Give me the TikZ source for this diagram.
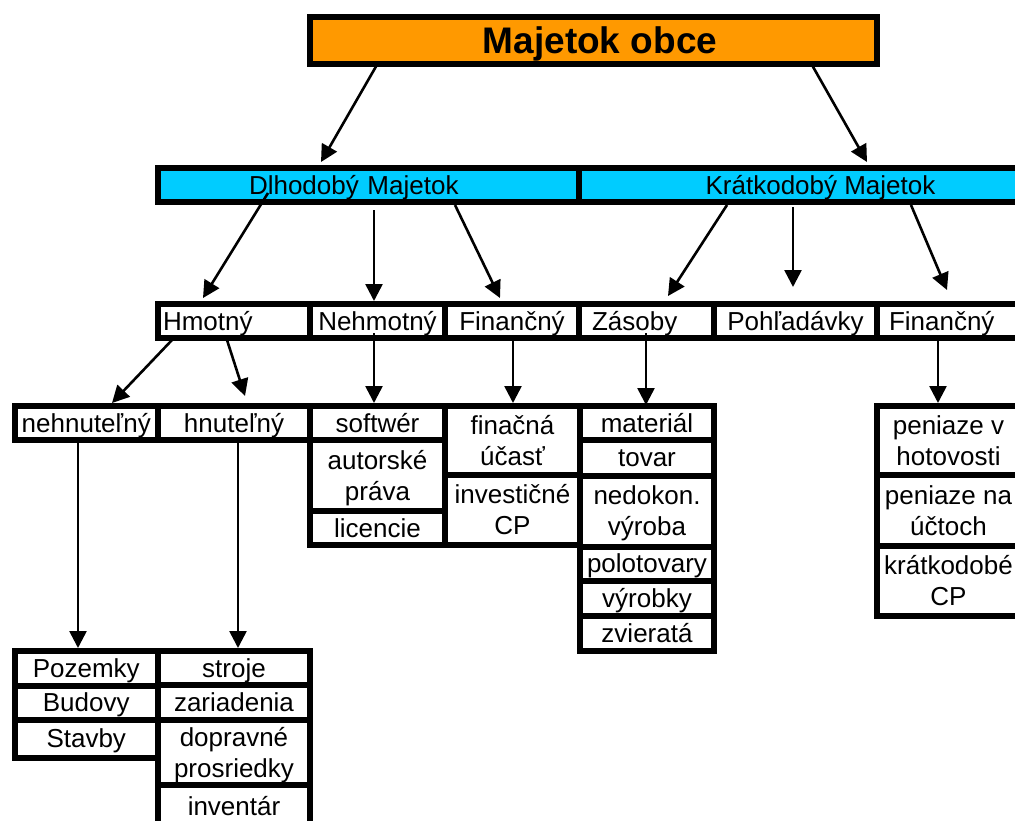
\documentclass[tikz,border=0pt]{standalone}
\usepackage{fontspec}
\setmainfont{Liberation Sans}
\usetikzlibrary{calc,arrows.meta}

\definecolor{oranz}{RGB}{255,153,0}
\definecolor{modra}{RGB}{0,204,255}

\begin{document}
\begin{tikzpicture}[x=1pt,y=-1pt,
                    cell/.style={draw,line width=6pt,inner sep=0pt,outer sep=0pt,minimum height=34pt,
                                 font=\fontsize{26}{31}\selectfont,text height=18pt,text depth=0pt},
                    cellii/.style={draw,line width=6pt,inner sep=0pt,outer sep=0pt,align=center,
                                 font=\fontsize{26}{31}\selectfont},
                    sipka/.style={line width=2.6pt,-{Triangle[length=17pt,width=17pt]}}]

\useasboundingbox (0,0) rectangle (1015,820);
\clip (0,0) rectangle (1015,820);

%\draw [help lines] (0,0) grid [step=50] (1015,820);

% majetok obce
\node[cell,fill=oranz,minimum width=567pt,minimum height=47pt,text height=26pt,
      font=\fontsize{37}{44}\selectfont\bfseries] (obec) at (593.5,40.5) {\hspace*{13pt}Majetok obce};

% dlhodoby / kratkodoby
\node[cell,fill=modra,minimum width=421pt,align=left,text width=239pt,inner xsep=91pt] (dlho) at (368.5,185) {Dlhodobý Majetok};
\node[cell,fill=modra,minimum width=483pt] (krat) at (820.5,185) {Krátkodobý Majetok};

% druhy riadok
\node[cell,minimum width=152pt,align=left,text width=142pt,inner xsep=5pt] (hmot) at (234,321) {Hmotný};
\node[cell,minimum width=135pt] (nehm) at (377.5,321) {Nehmotný};
\node[cell,minimum width=134pt] (fin1) at (512,321) {Finančný};
\node[cell,minimum width=135pt,align=left,text width=109pt,inner xsep=13pt] (zas) at (646.5,321) {Zásoby};
\node[cell,minimum width=163pt] (pohl) at (795.5,321) {Pohľadávky};
\node[cell,minimum width=168pt,align=left,text width=144pt,inner xsep=12pt] (fin2) at (961,321) {Finančný};

% hmotny
\node[cell,minimum width=143.5pt] (nehn) at (86.25,423) {nehnuteľný};
\node[cell,minimum width=152pt] (hnut) at (234,423) {hnuteľný};

% nehmotny
\node[cell,minimum width=135pt] (soft) at (377.5,423) {softwér};
\node[cellii,minimum width=135pt,minimum height=71pt] (aut) at (377.5,475.5) {autorské\\\smash{práva}};
\node[cell,minimum width=135pt] (lic) at (377.5,528) {licencie};

% financny
\node[cellii,minimum width=135pt,minimum height=69pt] (fina) at (512.5,440.5) {finačná\\účasť};
\node[cellii,minimum width=135pt,minimum height=70pt] (inv) at (512.5,510) {investičné\\CP};

% zasoby
\node[cell,minimum width=134pt] (mat) at (647,423) {materiál};
\node[cell,minimum width=134pt,minimum height=35.5pt] (tov) at (647,457.75) {tovar};
\node[cellii,minimum width=134pt,minimum height=71pt] (ned) at (647,511) {nedokon.\\\smash{výroba}};
\node[cell,minimum width=134pt] (pol) at (647,563.5) {polotovary};
\node[cell,minimum width=134pt,minimum height=35.5pt] (vyr) at (647,598.25) {výrobky};
\node[cell,minimum width=134pt,minimum height=34.5pt] (zvi) at (647,633.25) {zvieratá};

% kratkodoby financny
\node[cellii,minimum width=143pt,minimum height=69pt] (pen1) at (948.5,440.5) {peniaze v\\hotovosti};
\node[cellii,minimum width=143pt,minimum height=71pt] (pen2) at (948.5,510.5) {peniaze na\\účtoch};
\node[cellii,minimum width=143pt,minimum height=70pt] (kcp) at (948.5,581) {krátkodobé\\CP};

% nehnutelny / hnutelny
\node[cell,minimum width=143.5pt,minimum height=34.5pt] (poz) at (86.25,668.25) {Pozemky};
\node[cell,minimum width=143.5pt,minimum height=34.5pt] (bud) at (86.25,702.75) {Budovy};
\node[cell,minimum width=143.5pt,minimum height=37.5pt] (stav) at (86.25,738.75) {Stavby};
\node[cell,minimum width=152pt] (stroj) at (234,668) {stroje};
\node[cell,minimum width=152pt,minimum height=35pt] (zar) at (234,702.5) {zariadenia};
\node[cellii,minimum width=152pt,minimum height=65pt] (dop) at (234,752.5) {dopravné\\\smash{prosriedky}};
\node[cell,minimum width=152pt,minimum height=42pt] (invt) at (234,806) {inventár};

% sipky
\draw[sipka] ($(obec.south)+(-215.5,-1)$) -- ($(dlho.north)+(-47.5,-6)$);
\draw[sipka] ($(obec.south)+(218.5,1)$) -- ($(krat.north)+(46.5,-6)$);

\draw[sipka] ($(dlho.south)+(-100.5,-9)$) -- ($(hmot.north)+(-31,-6)$);
\draw[sipka] ($(dlho.south)+(5.5,8)$) -- ($(nehm.north)+(-3.5,-3)$);
\draw[sipka] ($(dlho.south)+(86.5,3)$) -- ($(fin1.north)+(-12,-6)$);
\draw[sipka] ($(krat.south)+(-93.5,3)$) -- ($(zas.north)+(21.5,-8)$);
\draw[sipka] ($(krat.south)+(-27.5,5)$) -- ($(pohl.north)+(-2.5,-17)$);
\draw[sipka] ($(krat.south)+(90.5,3)$) -- ($(fin2.north)+(-14,-14)$);

\draw[sipka] ($(hmot.south)+(-62,2)$) -- ($(nehn.north)+(25.75,-3)$);
\draw[sipka] ($(hmot.south)+(-7,2)$) -- ($(hnut.north)+(11,-10)$);
\draw[sipka] ($(nehm.south)+(-3.5,-5)$) -- ($(soft.north)+(-3.5,-3)$);
\draw[sipka] ($(fin1.south)+(1,2)$) -- ($(fina.north)+(0.5,-3)$);
\draw[sipka] ($(zas.south)+(-0.5,-5)$) -- ($(mat.north)+(-1,-1)$);
\draw[sipka] ($(fin2.south)+(-23,2)$) -- ($(pen1.north)+(-10.5,-3)$);

\draw[sipka] ($(nehn.south)+(-8.25,2)$) -- ($(poz.north)+(-8.25,-3)$);
\draw[sipka] ($(hnut.south)+(4,-3)$) -- ($(stroj.north)+(4,-3)$);

\end{tikzpicture}
\end{document}
